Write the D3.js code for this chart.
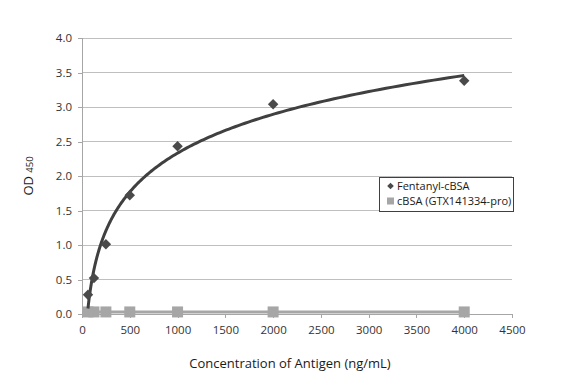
<!DOCTYPE html>
<html><head><meta charset="utf-8">
<script src="https://cdn.jsdelivr.net/npm/d3@7"></script>
<style>body{margin:0;background:#fff;} svg{display:block;font-family:"Open Sans",sans-serif;}</style>
</head><body>
<svg id="c" width="582" height="382"></svg>
<script>
const concentrations = [62.5, 125, 250, 500, 1000, 2000, 4000];
const fentanylValues = [0.28, 0.52, 1.01, 1.72, 2.43, 3.04, 3.38];
const cbsaValues = [0.03, 0.03, 0.03, 0.03, 0.03, 0.03, 0.03];
const xTicks = [0, 500, 1000, 1500, 2000, 2500, 3000, 3500, 4000, 4500];
const yTicks = [0, 0.5, 1.0, 1.5, 2.0, 2.5, 3.0, 3.5, 4.0];
const seriesNames = ["Fentanyl-cBSA", "cBSA (GTX141334-pro)"];

const svg = d3.select("#c");
const x = d3.scaleLinear().domain([0, 4500]).range([82, 512]);
const y = d3.scaleLinear().domain([0, 4]).range([314, 38]);

// gridlines
svg.append("g").selectAll("line").data(yTicks.slice(1)).join("line")
  .attr("x1", 82).attr("x2", 512).attr("y1", d => y(d)).attr("y2", d => y(d))
  .attr("stroke", "#bfbfbf").attr("stroke-width", 1).attr("shape-rendering", "crispEdges");

// y axis
const yAxis = svg.append("g").attr("transform", "translate(82,0)")
  .call(d3.axisLeft(y).tickValues(yTicks).tickFormat(d3.format(".1f")).tickSize(4).tickPadding(6));
// x axis
const xAxis = svg.append("g").attr("transform", "translate(0,314)")
  .call(d3.axisBottom(x).tickValues(xTicks).tickFormat(d3.format("d")).tickSize(4).tickPadding(8));
[yAxis, xAxis].forEach(g => {
  g.select(".domain").attr("stroke", "#a6a6a6").attr("shape-rendering", "crispEdges");
  g.selectAll(".tick line").attr("stroke", "#a6a6a6").attr("shape-rendering", "crispEdges");
  g.selectAll("text").attr("fill", "#333").attr("font-size", 11.5).attr("font-family", "'Open Sans',sans-serif");
});
yAxis.select(".domain").attr("d", "M-4,38.5H0.5V314.5H-4");
xAxis.select(".domain").attr("d", "M82,4V0.5H512V4");

// cBSA series: line + squares
const lineGen = d3.line().x(d => x(d[0])).y(d => y(d[1]));
const cb = concentrations.map((c, i) => [c, cbsaValues[i]]);
svg.append("path").attr("d", lineGen(cb)).attr("fill", "none")
  .attr("stroke", "#a6a6a6").attr("stroke-width", 3);
svg.append("g").selectAll("rect").data(cb).join("rect")
  .attr("x", d => x(d[0]) - 5.5).attr("y", d => y(d[1]) - 5.5)
  .attr("width", 11).attr("height", 11).attr("fill", "#a6a6a6");

// logarithmic trendline (least squares fit of the Fentanyl data)
const lx = concentrations.map(Math.log);
const mx = d3.mean(lx), my = d3.mean(fentanylValues);
const a = d3.sum(lx.map((v, i) => (v - mx) * (fentanylValues[i] - my))) / d3.sum(lx.map(v => (v - mx) ** 2));
const b = my - a * mx;
const trendX = d3.range(0, 201).map(i => concentrations[0] * Math.pow(concentrations[concentrations.length - 1] / concentrations[0], i / 200));
svg.append("path").attr("d", lineGen(trendX.map(c => [c, a * Math.log(c) + b])))
  .attr("fill", "none").attr("stroke", "#404040").attr("stroke-width", 3);

// Fentanyl diamonds
const fe = concentrations.map((c, i) => [c, fentanylValues[i]]);
svg.append("g").selectAll("path").data(fe).join("path")
  .attr("transform", d => `translate(${x(d[0])},${y(d[1])}) rotate(45)`)
  .attr("d", d3.symbol().type(d3.symbolSquare).size(55)).attr("fill", "#4a4a4a");

// legend
const lg = svg.append("g");
lg.append("rect").attr("x", 379.5).attr("y", 177.5).attr("width", 134).attr("height", 34)
  .attr("fill", "#fff").attr("stroke", "#404040").attr("stroke-width", 1);
lg.append("path").attr("transform", "translate(390.5,186) rotate(45)")
  .attr("d", d3.symbol().type(d3.symbolSquare).size(22)).attr("fill", "#4a4a4a");
lg.append("rect").attr("x", 387).attr("y", 197.5).attr("width", 7).attr("height", 7).attr("fill", "#a6a6a6");
lg.selectAll("text").data(seriesNames).join("text")
  .attr("x", 397).attr("y", (d, i) => 190 + i * 15)
  .attr("font-size", 11).attr("fill", "#1a1a1a").text(d => d);

// axis titles
svg.append("text").attr("x", 290).attr("y", 368).attr("text-anchor", "middle")
  .attr("font-size", 13).attr("fill", "#1a1a1a").text("Concentration of Antigen (ng/mL)");
const yt = svg.append("text").attr("transform", "translate(33,176) rotate(-90)")
  .attr("text-anchor", "middle").attr("font-size", 13).attr("fill", "#1a1a1a");
yt.append("tspan").text("OD ");
yt.append("tspan").attr("font-size", 9.5).text("450");
</script>
</body></html>
